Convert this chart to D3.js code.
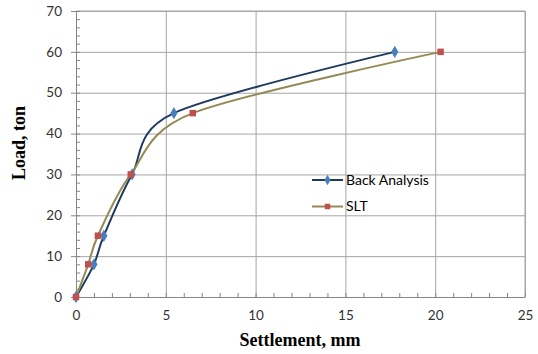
<!DOCTYPE html>
<html>
<head>
<meta charset="utf-8">
<script src="https://cdn.jsdelivr.net/npm/d3@7"></script>
<style>
  body { margin: 0; background: #fff; }
  svg { display: block; }
</style>
</head>
<body>
<svg id="chart" width="538" height="354"></svg>
<script>
// data
const seriesNames = ["Back Analysis", "SLT"];
const backSettle = [0, 1.0, 1.55, 3.12, 5.45, 17.75];
const backLoad = [0, 8, 15, 30, 45, 60];
const sltSettle = [0, 0.68, 1.22, 3.05, 6.5, 20.3];
const sltLoad = [0, 8, 15, 30, 45, 60];
const xTicks = [0, 5, 10, 15, 20, 25];
const yTicks = [0, 10, 20, 30, 40, 50, 60, 70];

let svg = d3.select("svg#chart");
const margin = { top: 11, left: 76, right: 13, bottom: 57 };
const innerWidth = svg.attr("width") - margin.left - margin.right;
const innerHeight = svg.attr("height") - margin.top - margin.bottom;

let xScale = d3.scaleLinear().domain([0, 25]).range([0, innerWidth]);
let yScale = d3.scaleLinear().domain([0, 70]).range([innerHeight, 0]);

let plot = svg.append("g")
    .attr("transform", `translate(${margin.left},${margin.top})`);

// strip labels and domain from helper axes (grids, minor ticks)
function bare(g, color) {
    g.select(".domain").remove();
    g.selectAll("text").remove();
    g.selectAll("line").attr("stroke", color);
}

// gridlines
plot.append("g")
    .attr("class", "x gridlines")
    .attr("transform", `translate(0,${innerHeight})`)
    .call(d3.axisBottom(xScale).tickValues(xTicks).tickSize(-innerHeight))
    .call(g => bare(g, "#a6a6a6"));
plot.append("g")
    .attr("class", "y gridlines")
    .call(d3.axisLeft(yScale).tickValues(yTicks).tickSize(-innerWidth))
    .call(g => bare(g, "#a6a6a6"));

// border on top and right
plot.append("path")
    .attr("d", `M0,0H${innerWidth}V${innerHeight}`)
    .attr("fill", "none")
    .attr("stroke", "#a6a6a6");

// minor ticks (inside)
plot.append("g")
    .attr("transform", `translate(0,${innerHeight})`)
    .call(d3.axisTop(xScale).tickValues(d3.range(0, 26, 1)).tickSize(4))
    .call(g => bare(g, "#868686"));
plot.append("g")
    .call(d3.axisRight(yScale).tickValues(d3.range(0, 71, 2)).tickSize(4))
    .call(g => bare(g, "#868686"));

// main axes
let xAxis = plot.append("g")
    .attr("transform", `translate(0,${innerHeight})`)
    .call(d3.axisBottom(xScale).tickValues(xTicks).tickSize(0).tickPadding(13));
let yAxis = plot.append("g")
    .call(d3.axisLeft(yScale).tickValues(yTicks).tickSize(5))
    .call(g => g.selectAll("text").remove());
[xAxis, yAxis].forEach(a => {
    a.select(".domain").attr("stroke", "#868686");
    a.selectAll("line").attr("stroke", "#868686");
});
xAxis.selectAll("text")
    .style("font-family", "Lato, 'Open Sans', sans-serif")
    .style("font-size", "13.5px")
    .attr("fill", "#333");

// y tick labels placed in page coordinates
svg.append("g")
    .selectAll("text")
    .data(yTicks)
    .join("text")
    .attr("x", margin.left - 14)
    .attr("y", d => margin.top + yScale(d))
    .attr("dy", "0.35em")
    .attr("text-anchor", "end")
    .style("font-family", "Lato, 'Open Sans', sans-serif")
    .style("font-size", "13.5px")
    .attr("fill", "#333")
    .text(d => d);

// axis titles
svg.append("text")
    .attr("x", 300)
    .attr("y", 346)
    .attr("text-anchor", "middle")
    .style("font-family", "'Liberation Serif', 'DejaVu Serif', serif")
    .style("font-weight", "bold")
    .style("font-size", "18px")
    .text("Settlement, mm");
svg.append("text")
    .attr("transform", "translate(25,143) rotate(-90)")
    .attr("text-anchor", "middle")
    .style("font-family", "'Liberation Serif', 'DejaVu Serif', serif")
    .style("font-weight", "bold")
    .style("font-size", "18px")
    .text("Load, ton");

// series
const series = [
    { name: seriesNames[0], xs: backSettle, ys: backLoad, line: "#1f3a5f", mark: "#4a7ebb", shape: d3.symbolDiamond },
    { name: seriesNames[1], xs: sltSettle, ys: sltLoad, line: "#948a54", mark: "#c0504d", shape: d3.symbolSquare }
];
let line = d3.line()
    .x(d => xScale(d[0]))
    .y(d => yScale(d[1]))
    .curve(d3.curveCardinal.tension(0.1));

series.forEach(s => {
    const pts = s.xs.map((x, i) => [x, s.ys[i]]);
    plot.append("path")
        .datum(pts)
        .attr("d", line)
        .attr("fill", "none")
        .attr("stroke", s.line)
        .attr("stroke-width", 2);
});
series.forEach(s => {
    const pts = s.xs.map((x, i) => [x, s.ys[i]]);
    plot.selectAll(null)
        .data(pts)
        .join("path")
        .attr("transform", d => `translate(${xScale(d[0])},${yScale(d[1])})`)
        .attr("d", d3.symbol().type(s.shape).size(s.shape === d3.symbolDiamond ? 44 : 42))
        .attr("fill", s.mark);
});

// legend
let legend = svg.append("g").attr("transform", "translate(312,180)");
series.forEach((s, i) => {
    let row = legend.append("g").attr("transform", `translate(0,${i * 26.5})`);
    row.append("line")
        .attr("x1", 0).attr("x2", 31)
        .attr("stroke", s.line)
        .attr("stroke-width", 2);
    row.append("path")
        .attr("transform", "translate(15.5,0)")
        .attr("d", d3.symbol().type(s.shape).size(s.shape === d3.symbolDiamond ? 32 : 30))
        .attr("fill", s.mark);
    row.append("text")
        .attr("x", 34)
        .attr("y", 0)
        .attr("dy", "0.35em")
        .style("font-family", "Lato, 'Open Sans', sans-serif")
        .style("font-size", "14px")
        .attr("fill", "#000")
        .text(s.name);
});
</script>
</body>
</html>
